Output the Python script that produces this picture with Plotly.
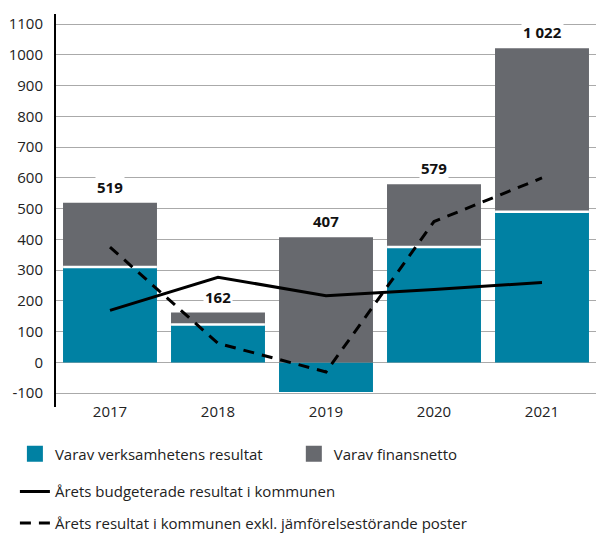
import plotly.graph_objects as go

years = ["2017", "2018", "2019", "2020", "2021"]
verksamhet = [310, 123, -96, 375, 490]
finansnetto = [209, 39, 407, 204, 532]
totals = [519, 162, 407, 579, 1022]
total_labels = ["519", "162", "407", "579", "1 022"]
budget = [169, 277, 217, 237, 260]
resultat = [375, 62, -31, 458, 600]
y_tick_vals = [-100, 0, 100, 200, 300, 400, 500, 600, 700, 800, 900, 1000, 1100]
y_tick_text = ["-100", "0", "100", "200", "300", "400", "500", "600", "700", "800",
               "900", "1000", "1100"]

teal = "#0081a3"
grey = "#67696e"
font = "Open Sans"

fig = go.Figure()
fig.add_trace(go.Bar(x=years, y=verksamhet, name="Varav verksamhetens resultat",
                     marker=dict(color=teal, line=dict(width=0)), showlegend=False,
                     legendgroup="v"))
fig.add_trace(go.Bar(x=years, y=finansnetto, name="Varav finansnetto",
                     marker=dict(color=grey, line=dict(width=0)), showlegend=False,
                     legendgroup="f"))
# legend swatches (bigger squares than the default bar swatch)
fig.add_trace(go.Scatter(x=[None], y=[None], mode="markers", name="Varav verksamhetens resultat",
                         marker=dict(symbol="square", size=24, color=teal), legendgroup="v",
                         legend="legend"))
fig.add_trace(go.Scatter(x=[None], y=[None], mode="markers", name="Varav finansnetto",
                         marker=dict(symbol="square", size=24, color=grey), legendgroup="f",
                         legend="legend4"))
# white separators at the boundary between the two stacked segments
sep = [v if v > 0 else None for v in verksamhet]
fig.add_trace(go.Scatter(x=years, y=sep, mode="markers", showlegend=False, hoverinfo="skip",
                         marker=dict(symbol="line-ew", size=67, color="white",
                                     line=dict(color="white", width=2.5))))
fig.add_trace(go.Scatter(x=years, y=budget, mode="lines",
                         name="Årets budgeterade resultat i kommunen",
                         line=dict(color="black", width=3), legend="legend2"))
fig.add_trace(go.Scatter(x=years, y=resultat, mode="lines",
                         name="Årets resultat i kommunen exkl. jämförelsestörande poster",
                         line=dict(color="black", width=3, dash="11px,8px"), legend="legend3"))

for i, (t, lab) in enumerate(zip(totals, total_labels)):
    fig.add_annotation(x=i, y=t, xref="x", yref="y", text="<b>" + lab + "</b>",
                       showarrow=False, yanchor="bottom", yshift=4, bgcolor="white",
                       font=dict(family=font, size=15, color="#111"))

legend_common = dict(font=dict(family=font, size=15, color="#222"), bgcolor="rgba(0,0,0,0)",
                     xref="container", yref="container", xanchor="left", yanchor="middle",
                     orientation="h", traceorder="normal")
fig.update_layout(
    width=596, height=534,
    margin=dict(l=56, r=0, t=14, b=127, autoexpand=False),
    paper_bgcolor="white", plot_bgcolor="white",
    barmode="relative", bargap=0.13,
    font=dict(family=font, size=15, color="#222"),
    legend=dict(x=0.025, y=0.150, **legend_common),
    legend4=dict(x=0.493, y=0.150, **legend_common),
    legend2=dict(x=0.025, y=0.079, **legend_common),
    legend3=dict(x=0.025, y=0.02, **legend_common),
)
fig.update_yaxes(range=[-145, 1133], autorange=False, tickmode="array",
                 tickvals=y_tick_vals, ticktext=y_tick_text, showgrid=True,
                 gridcolor="#aaaaaa", gridwidth=1, zeroline=True, zerolinecolor="#aaaaaa",
                 zerolinewidth=1, showline=True, linecolor="black", linewidth=2, ticks="",
                 ticklabelstandoff=8, tickfont=dict(family=font, size=15, color="#222"))
fig.update_xaxes(type="category", categoryorder="array", categoryarray=years,
                 range=[-0.5, len(years) - 0.5], autorange=False,
                 showgrid=False, showline=False, ticks="", ticklabelstandoff=-6,
                 tickfont=dict(family=font, size=15, color="#222"))

fig.write_html("out.html", post_script="document.body.style.margin='0';",
               config={"displayModeBar": False})
